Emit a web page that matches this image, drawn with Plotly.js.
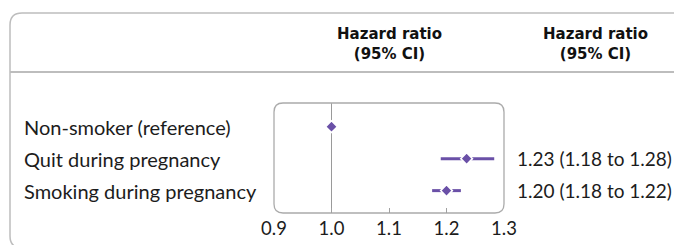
<!DOCTYPE html>
<html>
<head>
<meta charset="utf-8">
<script src="https://cdn.plot.ly/plotly-3.0.1.min.js"></script>
<style>
  html, body { margin: 0; padding: 0; background: #fff; }
  #chart { width: 674px; height: 245px; }
</style>
</head>
<body>
<div id="chart"></div>
<script>
// ---- data ----
const categories = ['Non-smoker (reference)', 'Quit during pregnancy', 'Smoking during pregnancy'];
const hazardRatio = [1.0, 1.235, 1.20];
const ciLow = [1.0, 1.19, 1.175];
const ciHigh = [1.0, 1.283, 1.225];
const hrLabels = ['', '1.23 (1.18 to 1.28)', '1.20 (1.18 to 1.22)'];
const tickVals = [0.9, 1.0, 1.1, 1.2, 1.3];
const tickText = ['0.9', '1.0', '1.1', '1.2', '1.3'];
const headerText = 'Hazard ratio<br>(95% CI)';

// ---- layout helpers (pixel -> paper) ----
const W = 674, H = 245;
const px = x => x / W;
const py = y => 1 - y / H;
function P(x, y) { return px(x).toFixed(5) + ',' + py(y).toFixed(5); }
function roundRect(x0, y0, x1, y1, r) {
  return 'M' + P(x0 + r, y0) + ' L' + P(x1 - r, y0) + ' Q' + P(x1, y0) + ' ' + P(x1, y0 + r) +
    ' L' + P(x1, y1 - r) + ' Q' + P(x1, y1) + ' ' + P(x1 - r, y1) +
    ' L' + P(x0 + r, y1) + ' Q' + P(x0, y1) + ' ' + P(x0, y1 - r) +
    ' L' + P(x0, y0 + r) + ' Q' + P(x0, y0) + ' ' + P(x0 + r, y0) + ' Z';
}
const box = { x0: 274, x1: 504, y0: 103, y1: 213 };
const rows = categories.map((c, i) => i);
const purple = '#6a50a7';
const textColor = '#1c1c1c';
const font = 'Lato, "Open Sans", sans-serif';
const headFont = '"DejaVu Sans", "Open Sans", sans-serif';

const trace = {
  type: 'scatter',
  mode: 'markers',
  x: hazardRatio,
  y: rows,
  marker: { symbol: 'diamond', size: 9, color: purple, line: { color: '#fff', width: 1.5 } },
  error_x: {
    type: 'data',
    symmetric: false,
    array: hazardRatio.map((v, i) => ciHigh[i] - v),
    arrayminus: hazardRatio.map((v, i) => v - ciLow[i]),
    color: purple,
    thickness: 3,
    width: 0
  },
  hoverinfo: 'none',
  showlegend: false
};

const annotations = [];
categories.forEach((c, i) => {
  annotations.push({ text: c, xref: 'paper', x: px(22), xanchor: 'left', yref: 'y', y: rows[i],
    yanchor: 'middle', showarrow: false, font: { family: font, size: 20, color: textColor } });
  if (hrLabels[i]) {
    annotations.push({ text: hrLabels[i], xref: 'paper', x: px(515), xanchor: 'left', yref: 'y', y: rows[i],
      yanchor: 'middle', showarrow: false, font: { family: font, size: 19, color: textColor } });
  }
});
[389, 595].forEach(cx => {
  annotations.push({ text: '<b>' + headerText + '</b>', xref: 'paper', x: px(cx), xanchor: 'center',
    yref: 'paper', y: py(44), yanchor: 'middle', showarrow: false, align: 'center',
    font: { family: headFont, size: 15, color: '#111' } });
});

const shapes = [
  // outer rounded panel (left side visible)
  { type: 'path', xref: 'paper', yref: 'paper',
    path: 'M' + P(700, 13) + ' L' + P(22, 13) + ' Q' + P(10, 13) + ' ' + P(10, 25) +
          ' L' + P(10, 236) + ' Q' + P(10, 248) + ' ' + P(22, 248) + ' L' + P(700, 248),
    line: { color: '#bdbdbd', width: 1.5 } },
  // header separator
  { type: 'line', xref: 'paper', yref: 'paper', x0: px(10), x1: 1, y0: py(72), y1: py(72),
    line: { color: '#bdbdbd', width: 2 } },
  // reference line at 1.0
  { type: 'line', xref: 'x', yref: 'paper', x0: 1.0, x1: 1.0, y0: py(box.y1), y1: py(box.y0),
    line: { color: '#9a9a9a', width: 1 }, layer: 'below' },
  // plot box
  { type: 'path', xref: 'paper', yref: 'paper', path: roundRect(box.x0, box.y0, box.x1, box.y1, 9),
    line: { color: '#ababab', width: 1.3 }, layer: 'below' }
];

const layout = {
  width: W, height: H,
  margin: { l: 0, r: 0, t: 0, b: 0, pad: 0 },
  paper_bgcolor: '#fff', plot_bgcolor: 'rgba(0,0,0,0)',
  xaxis: {
    domain: [px(box.x0), px(box.x1)],
    range: [0.9, 1.3],
    tickvals: tickVals, ticktext: tickText,
    ticks: 'inside', ticklen: 5, tickcolor: '#a0a0a0', tickwidth: 1,
    ticklabelstandoff: 2,
    showgrid: false, zeroline: false, showline: false,
    tickfont: { family: font, size: 18.5, color: textColor },
    fixedrange: true
  },
  yaxis: {
    domain: [py(box.y1), py(box.y0)],
    range: [2.70, -0.74],
    visible: false, showgrid: false, zeroline: false, fixedrange: true
  },
  shapes: shapes,
  annotations: annotations,
  font: { family: font }
};

Plotly.newPlot('chart', [trace], layout, { displayModeBar: false, staticPlot: true });
</script>
</body>
</html>
